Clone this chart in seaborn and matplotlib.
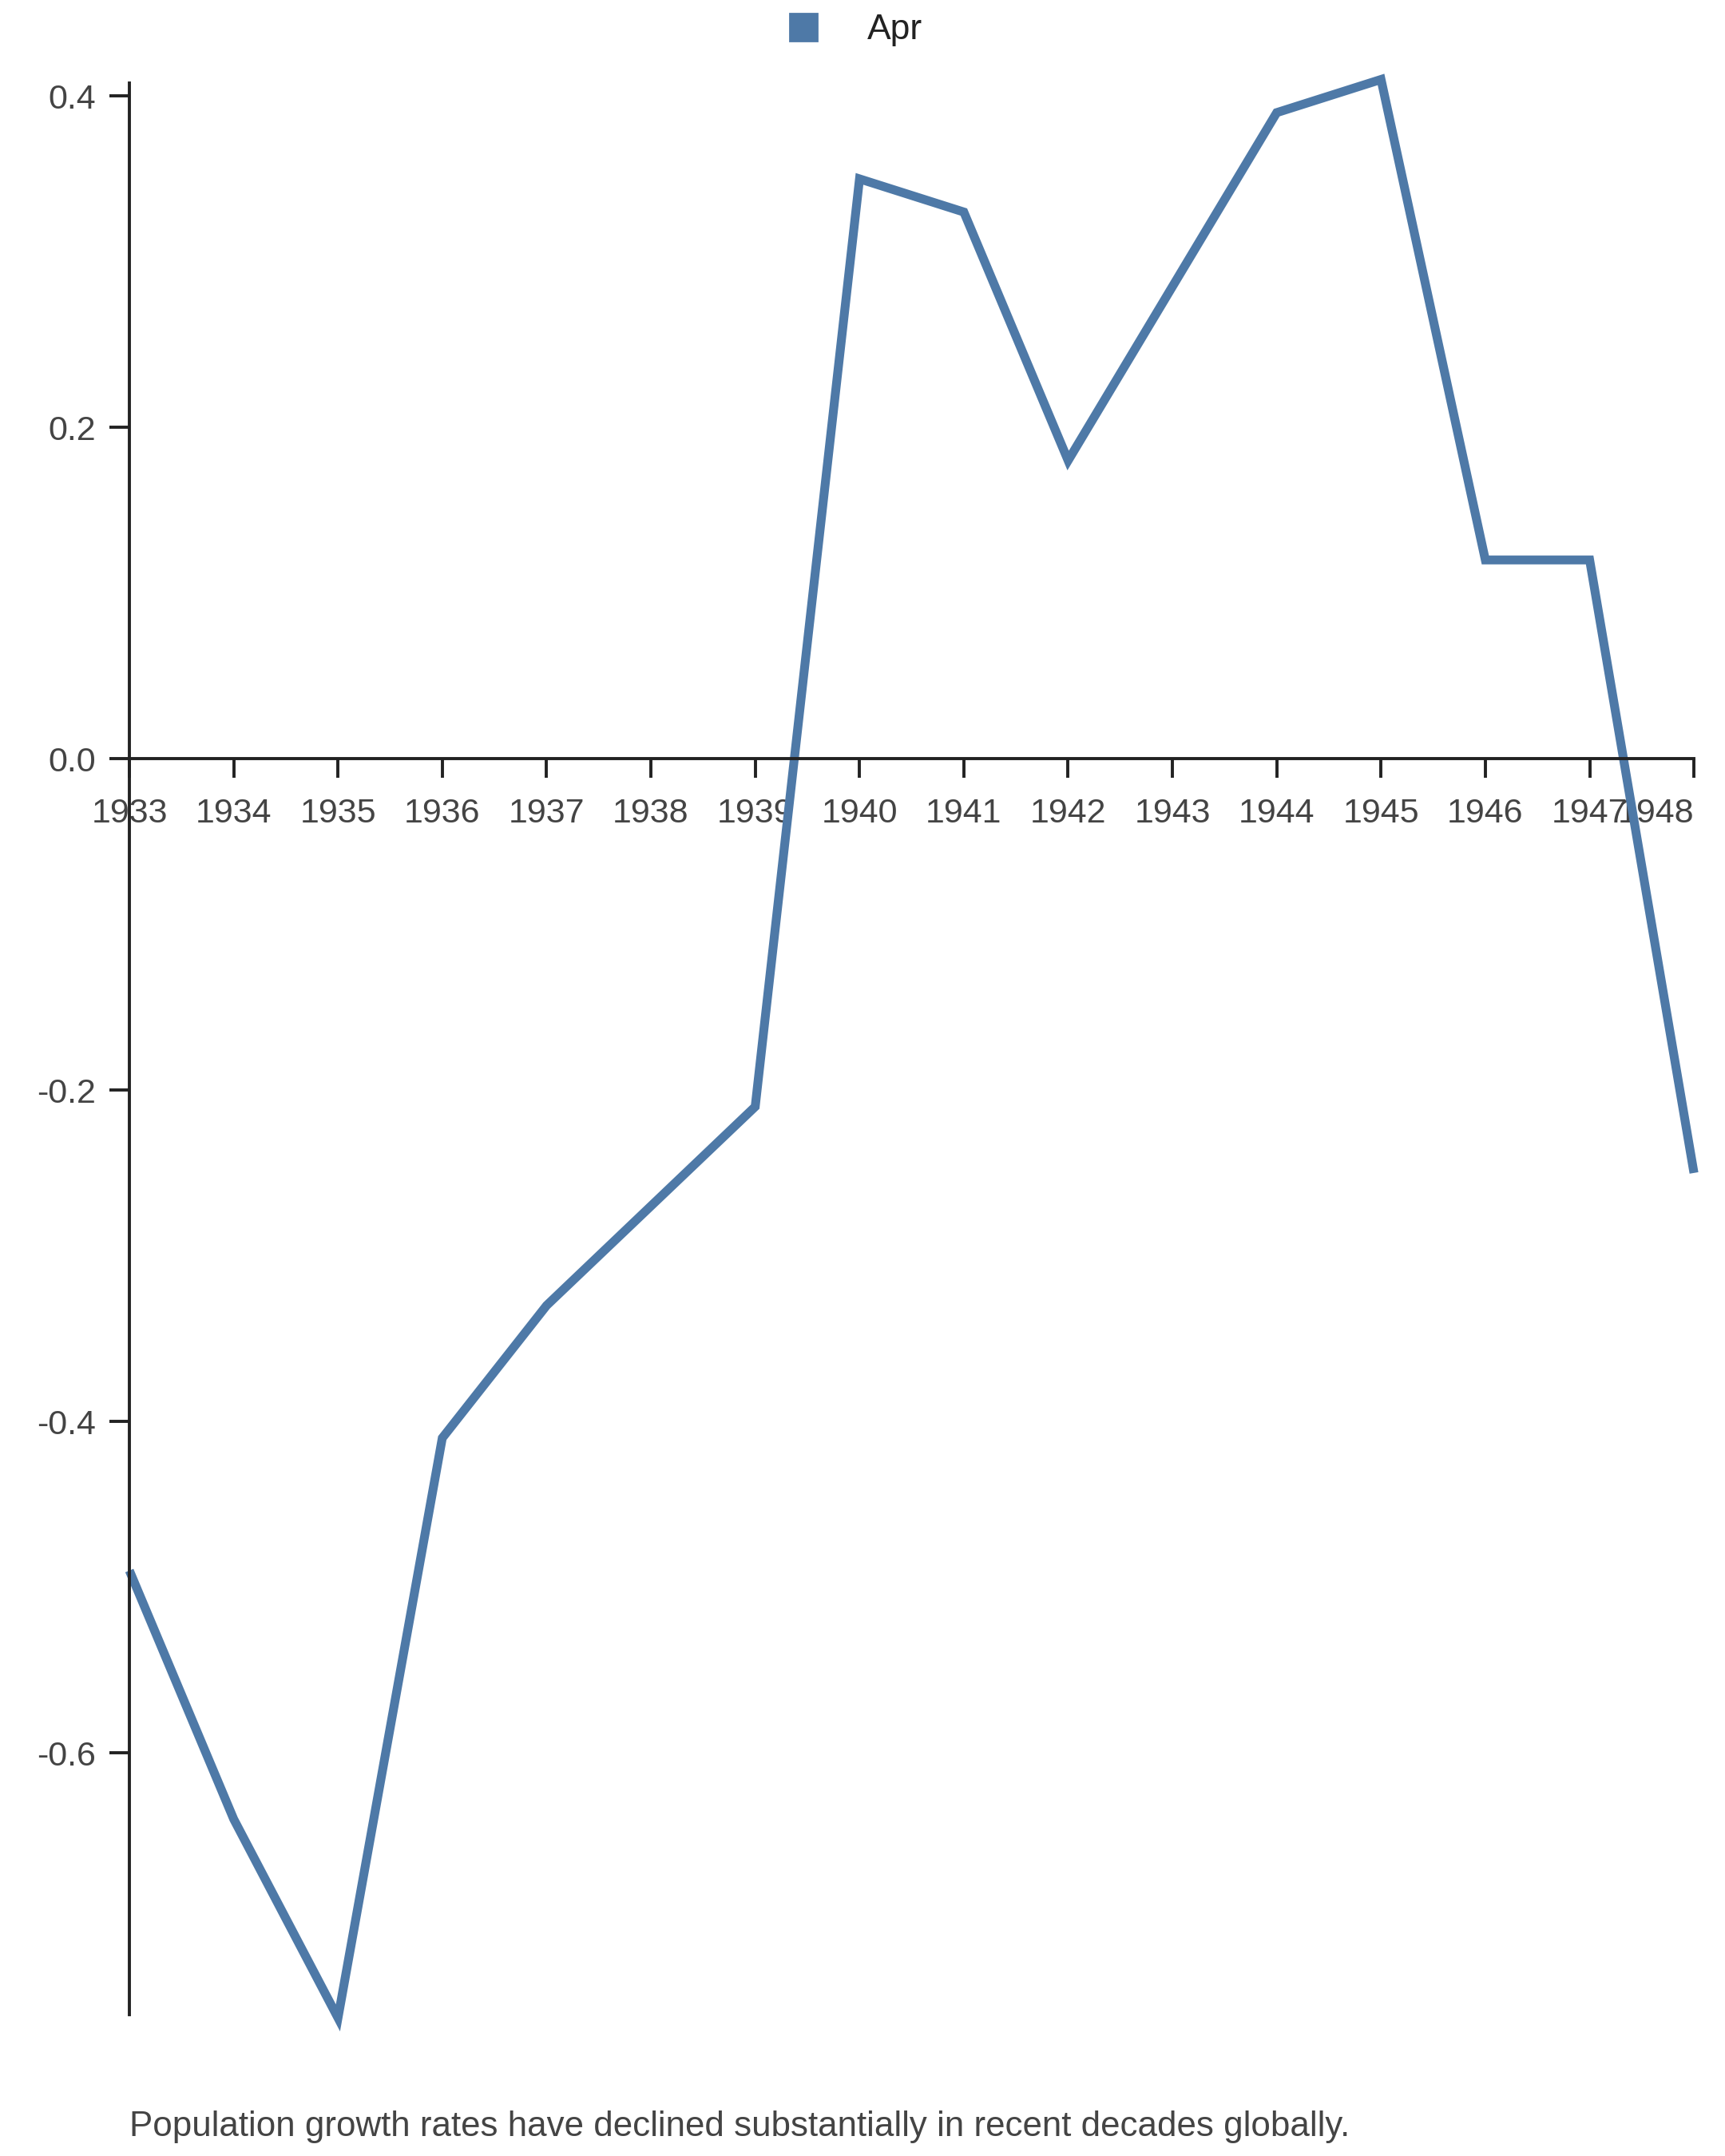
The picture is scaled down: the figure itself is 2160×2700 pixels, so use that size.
import matplotlib
matplotlib.use("Agg")
import matplotlib.pyplot as plt
from matplotlib.lines import Line2D
import seaborn as sns
import pandas as pd

# data
years = list(range(1933, 1949))
apr = [-0.49, -0.64, -0.76, -0.41, -0.33, -0.27, -0.21, 0.35,
       0.33, 0.18, 0.285, 0.39, 0.41, 0.12, 0.12, -0.25]
series_name = "Apr"
caption = "Population growth rates have declined substantially in recent decades globally."
y_ticks = [-0.6, -0.4, -0.2, 0.0, 0.2, 0.4]

df = pd.DataFrame({"Year": years, "Value": apr})

sns.set_style("white")
plt.rcParams["font.family"] = ["Liberation Sans", "DejaVu Sans"]
plt.rcParams["axes.unicode_minus"] = False

line_color = "#4e79a7"
axis_color = "#222222"
text_color = "#444444"

fig = plt.figure(figsize=(10.8, 13.5), dpi=200)
ax = fig.add_axes([0.075, 0.0656, 0.907, 0.896])

sns.lineplot(data=df, x="Year", y="Value", color=line_color, linewidth=4,
             ax=ax, legend=False)
for ln in ax.lines:
    ln.set_clip_on(False)
    ln.set_solid_capstyle("butt")
    ln.set_solid_joinstyle("miter")

ax.set_xlim(1933, 1948)
ax.set_ylim(-0.758, 0.408)
ax.set_xticks(years)
ax.set_xticklabels([str(y) for y in years])
ax.set_yticks(y_ticks)
ax.set_yticklabels([f"{v:.1f}" for v in y_ticks])
ax.set_xlabel("")
ax.set_ylabel("")

for side in ["top", "right"]:
    ax.spines[side].set_visible(False)
ax.spines["bottom"].set_position(("data", 0))
ax.spines["bottom"].set_color(axis_color)
ax.spines["left"].set_color(axis_color)
ax.spines["bottom"].set_linewidth(1.4)
ax.spines["left"].set_linewidth(1.4)

ax.tick_params(axis="x", direction="out", length=8.5, width=1.4, color=axis_color,
               labelsize=15.5, labelcolor=text_color, pad=9, bottom=True)
ax.tick_params(axis="y", direction="out", length=9, width=1.4, color=axis_color,
               labelsize=15.5, labelcolor=text_color, pad=6, left=True)
# last year label is pulled inside the axis end
ax.get_xticklabels()[-1].set_ha("right")

handle = Line2D([], [], linestyle="none", marker="s", markersize=12.5,
                markerfacecolor=line_color, markeredgecolor=line_color)
fig.legend([handle], [series_name], loc="center", bbox_to_anchor=(0.49, 0.986),
           frameon=False, fontsize=16, handletextpad=0.8, labelcolor="#222222")

fig.text(0.075, 0.006, caption, fontsize=15.8, color=text_color,
         ha="left", va="bottom")

fig.savefig("out.png", dpi=200)
